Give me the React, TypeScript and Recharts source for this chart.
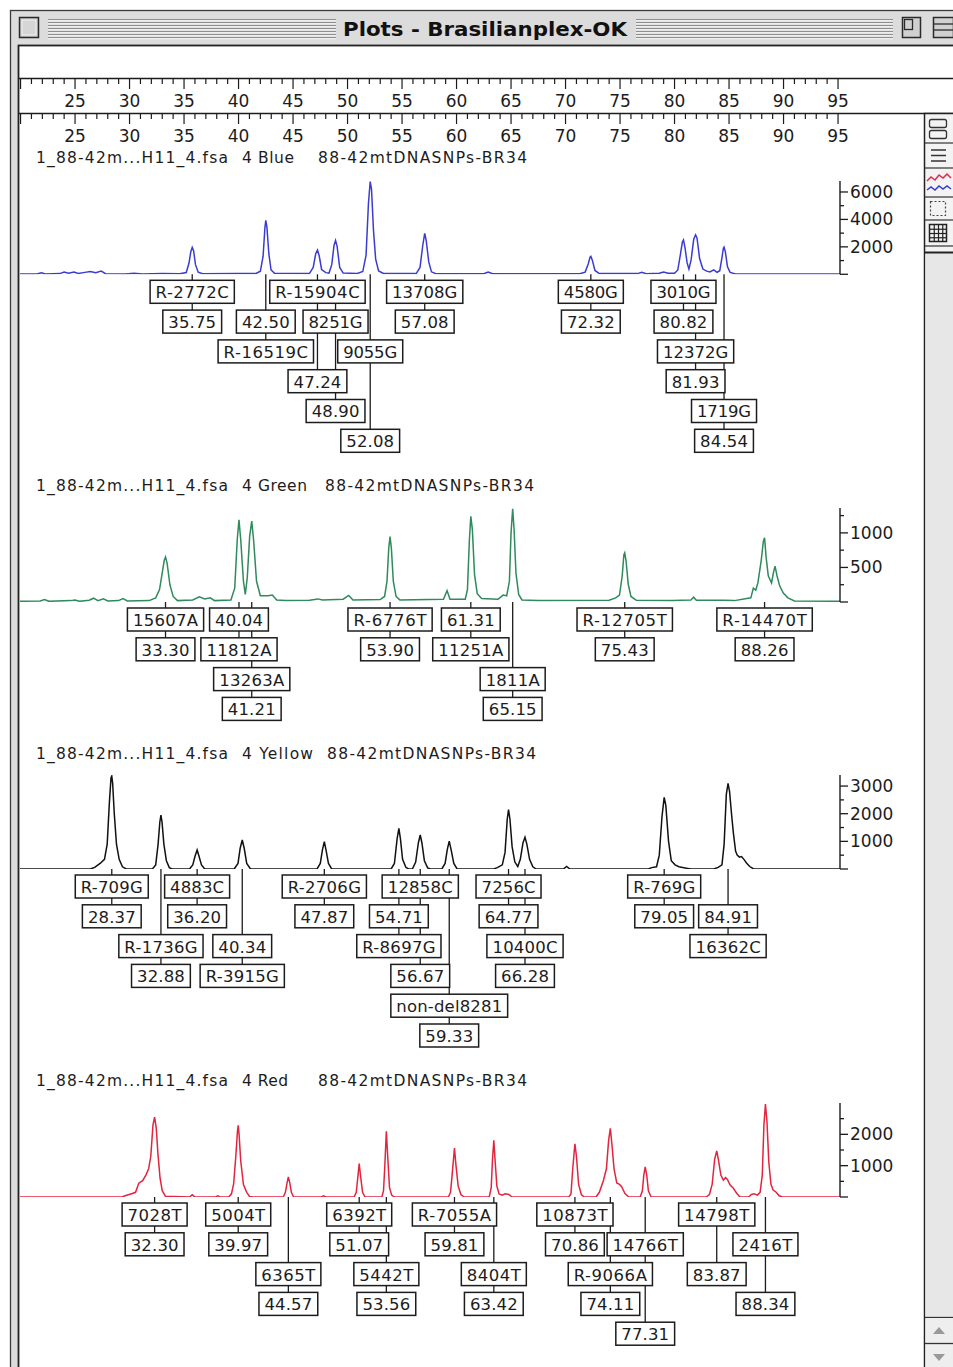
import React from "react";
import { LineChart, Line, XAxis, YAxis, ReferenceDot } from "recharts";

type Pt = [number, number];
type Call = { size: number; text: string; row: number };

// x range shown in every panel (base pairs)
const X_DOMAIN: [number, number] = [19.95, 95.18];
const rulerTicks = Array.from({ length: 76 }, (_, i) => 20 + i);

// ---- Blue ----
const blueTrace: Pt[] = [
  [19.95, 20], [21.5, 30], [21.9, 110], [22.3, 30], [23.6, 50], [24.0, 170], [24.4, 80], [24.9, 160],
  [25.3, 60], [25.9, 140], [26.4, 210], [26.9, 110], [27.4, 230], [27.8, 40], [29.6, 30], [30.4, 70],
  [31.2, 30], [33.0, 50], [34.6, 40], [35.2, 130], [35.45, 800], [35.62, 1650], [35.75, 1960], [35.88, 1700],
  [36.05, 700], [36.3, 150], [36.7, 40], [39.8, 50], [41.6, 60], [42.0, 220], [42.25, 1300], [42.42, 3400],
  [42.5, 3930], [42.6, 3450], [42.78, 1500], [42.98, 320], [43.3, 70], [46.5, 50], [46.85, 500], [47.08, 1500],
  [47.24, 1760], [47.4, 1350], [47.62, 350], [48.0, 120], [48.3, 90], [48.55, 700], [48.76, 2100], [48.9, 2470],
  [49.04, 2050], [49.28, 500], [49.6, 90], [50.9, 60], [51.4, 200], [51.7, 1400], [51.92, 5200], [52.08, 6760],
  [52.2, 6200], [52.38, 3200], [52.58, 1100], [52.85, 250], [53.3, 60], [56.3, 50], [56.65, 500], [56.9, 2100],
  [57.08, 2980], [57.22, 2450], [57.45, 900], [57.7, 180], [58.1, 40], [62.5, 40], [62.9, 160], [63.3, 40],
  [71.3, 40], [71.8, 160], [72.08, 750], [72.25, 1250], [72.32, 1310], [72.45, 1050], [72.7, 280], [73.1, 50],
  [76.6, 50], [77.0, 140], [77.4, 40], [78.6, 70], [79.0, 170], [79.4, 70], [80.0, 80], [80.3, 320],
  [80.55, 1500], [80.72, 2350], [80.82, 2500], [80.96, 1950], [81.15, 850], [81.32, 380], [81.52, 1050], [81.76, 2550],
  [81.93, 2880], [82.06, 2650], [82.3, 1150], [82.6, 380], [82.95, 230], [83.25, 170], [83.6, 320], [83.9, 150],
  [84.15, 260], [84.36, 1250], [84.48, 1900], [84.54, 1980], [84.66, 1650], [84.86, 550], [85.1, 140], [85.6, 30],
  [95.18, 20],
];
const blueCalls: Call[] = [
  { size: 35.75, text: "R-2772C", row: 1 }, { size: 35.75, text: "35.75", row: 2 },
  { size: 42.5, text: "42.50", row: 2 }, { size: 42.5, text: "R-16519C", row: 3 },
  { size: 47.24, text: "R-15904C", row: 1 }, { size: 47.24, text: "47.24", row: 4 },
  { size: 48.9, text: "8251G", row: 2 }, { size: 48.9, text: "48.90", row: 5 },
  { size: 52.08, text: "9055G", row: 3 }, { size: 52.08, text: "52.08", row: 6 },
  { size: 57.08, text: "13708G", row: 1 }, { size: 57.08, text: "57.08", row: 2 },
  { size: 72.32, text: "4580G", row: 1 }, { size: 72.32, text: "72.32", row: 2 },
  { size: 80.82, text: "3010G", row: 1 }, { size: 80.82, text: "80.82", row: 2 },
  { size: 81.93, text: "12372G", row: 3 }, { size: 81.93, text: "81.93", row: 4 },
  { size: 84.54, text: "1719G", row: 5 }, { size: 84.54, text: "84.54", row: 6 },
];
const blueTicks = [0, 1000, 2000, 3000, 4000, 5000, 6000];
const blueLabels = [2000, 4000, 6000];

// ---- Green ----
const greenTrace: Pt[] = [
  [19.95, 10], [21.8, 15], [22.2, 35], [22.6, 10], [24.6, 20], [25.0, 30], [25.4, 10], [26.3, 25],
  [26.7, 55], [27.1, 20], [27.6, 45], [28.0, 15], [29.0, 20], [29.4, 50], [29.8, 15], [31.8, 20],
  [32.4, 60], [32.75, 180], [33.0, 420], [33.18, 600], [33.3, 650], [33.45, 560], [33.7, 250], [34.0, 80],
  [34.4, 20], [35.8, 30], [36.4, 75], [36.9, 45], [37.4, 60], [37.8, 20], [39.3, 30], [39.65, 200],
  [39.88, 900], [40.04, 1190], [40.2, 900], [40.45, 300], [40.62, 110], [40.8, 350], [41.02, 950], [41.21, 1170],
  [41.38, 900], [41.65, 300], [42.0, 90], [42.7, 90], [43.1, 100], [43.5, 30], [44.3, 20], [46.5, 25],
  [47.3, 45], [47.7, 30], [49.6, 40], [50.1, 95], [50.5, 30], [53.0, 35], [53.4, 80], [53.62, 300],
  [53.78, 780], [53.9, 945], [54.02, 780], [54.2, 300], [54.45, 80], [54.8, 30], [58.8, 40], [59.13, 165],
  [59.4, 40], [60.8, 40], [61.0, 180], [61.18, 900], [61.31, 1240], [61.45, 1050], [61.65, 400], [61.9, 120],
  [62.3, 50], [63.8, 40], [64.27, 100], [64.6, 90], [64.85, 300], [65.0, 1000], [65.15, 1350], [65.28, 1050],
  [65.45, 420], [65.7, 110], [66.0, 30], [67.5, 20], [74.0, 25], [74.6, 60], [74.95, 100], [75.2, 380],
  [75.35, 680], [75.43, 710], [75.55, 600], [75.75, 260], [76.0, 80], [76.5, 25], [79.8, 20], [81.5, 30],
  [81.75, 70], [82.0, 25], [84.5, 25], [85.5, 20], [87.0, 60], [87.23, 200], [87.45, 170], [87.65, 280],
  [87.95, 600], [88.15, 880], [88.26, 930], [88.4, 650], [88.6, 380], [88.9, 275], [89.08, 430], [89.22, 520],
  [89.4, 380], [89.65, 230], [89.98, 130], [90.4, 60], [91.0, 15], [95.18, 10],
];
const greenCalls: Call[] = [
  { size: 33.3, text: "15607A", row: 1 }, { size: 33.3, text: "33.30", row: 2 },
  { size: 40.04, text: "40.04", row: 1 }, { size: 40.04, text: "11812A", row: 2 },
  { size: 41.21, text: "13263A", row: 3 }, { size: 41.21, text: "41.21", row: 4 },
  { size: 53.9, text: "R-6776T", row: 1 }, { size: 53.9, text: "53.90", row: 2 },
  { size: 61.31, text: "61.31", row: 1 }, { size: 61.31, text: "11251A", row: 2 },
  { size: 65.15, text: "1811A", row: 3 }, { size: 65.15, text: "65.15", row: 4 },
  { size: 75.43, text: "R-12705T", row: 1 }, { size: 75.43, text: "75.43", row: 2 },
  { size: 88.26, text: "R-14470T", row: 1 }, { size: 88.26, text: "88.26", row: 2 },
];
const greenTicks = [0, 250, 500, 750, 1000, 1250];
const greenLabels = [500, 1000];

// ---- Yellow (drawn in black) ----
const yellowTrace: Pt[] = [
  [19.95, 0], [26.4, 0], [26.8, 60], [27.3, 200], [27.7, 350], [27.95, 900], [28.15, 2400], [28.3, 3300],
  [28.37, 3360], [28.45, 3100], [28.6, 2000], [28.8, 900], [29.05, 350], [29.35, 80], [29.7, 0], [32.1, 0],
  [32.4, 150], [32.62, 900], [32.78, 1700], [32.88, 1950], [32.98, 1700], [33.15, 900], [33.38, 300], [33.65, 50],
  [33.9, 0], [35.5, 0], [35.8, 150], [36.0, 450], [36.2, 690], [36.38, 450], [36.6, 150], [36.9, 0],
  [39.6, 0], [39.95, 200], [40.15, 750], [40.34, 1050], [40.52, 750], [40.75, 200], [41.1, 0], [47.2, 0],
  [47.5, 200], [47.7, 700], [47.87, 990], [48.02, 700], [48.25, 200], [48.55, 0], [54.0, 0], [54.3, 200],
  [54.55, 1100], [54.71, 1470], [54.85, 1100], [55.05, 350], [55.35, 60], [55.6, 0], [55.95, 0], [56.25, 250],
  [56.5, 950], [56.67, 1230], [56.82, 950], [57.05, 300], [57.35, 40], [57.6, 0], [58.65, 0], [58.95, 200],
  [59.15, 700], [59.33, 1010], [59.5, 700], [59.75, 200], [60.05, 0], [63.4, 0], [63.75, 50], [64.2, 150],
  [64.45, 600], [64.65, 1800], [64.77, 2150], [64.9, 1800], [65.1, 800], [65.35, 250], [65.62, 90], [65.85, 350],
  [66.1, 950], [66.28, 1150], [66.45, 900], [66.7, 350], [67.0, 80], [67.3, 0], [69.8, 0], [70.1, 90],
  [70.4, 0], [77.6, 0], [77.9, 50], [78.35, 80], [78.6, 500], [78.85, 1900], [79.05, 2590], [79.2, 2300],
  [79.45, 1000], [79.7, 300], [80.05, 150], [80.4, 80], [81.2, 20], [81.5, 0], [83.6, 0], [84.0, 60],
  [84.35, 150], [84.55, 900], [84.75, 2700], [84.91, 3100], [85.05, 2800], [85.25, 1900], [85.4, 1300], [85.6, 650],
  [85.75, 500], [85.95, 430], [86.15, 450], [86.4, 330], [86.62, 210], [86.9, 90], [87.25, 0], [95.18, 0],
];
const yellowCalls: Call[] = [
  { size: 28.37, text: "R-709G", row: 1 }, { size: 28.37, text: "28.37", row: 2 },
  { size: 36.2, text: "4883C", row: 1 }, { size: 36.2, text: "36.20", row: 2 },
  { size: 32.88, text: "R-1736G", row: 3 }, { size: 32.88, text: "32.88", row: 4 },
  { size: 40.34, text: "40.34", row: 3 }, { size: 40.34, text: "R-3915G", row: 4 },
  { size: 47.87, text: "R-2706G", row: 1 }, { size: 47.87, text: "47.87", row: 2 },
  { size: 56.67, text: "12858C", row: 1 }, { size: 54.71, text: "54.71", row: 2 },
  { size: 54.71, text: "R-8697G", row: 3 }, { size: 56.67, text: "56.67", row: 4 },
  { size: 59.33, text: "non-del8281", row: 5 }, { size: 59.33, text: "59.33", row: 6 },
  { size: 64.77, text: "7256C", row: 1 }, { size: 64.77, text: "64.77", row: 2 },
  { size: 66.28, text: "10400C", row: 3 }, { size: 66.28, text: "66.28", row: 4 },
  { size: 79.05, text: "R-769G", row: 1 }, { size: 79.05, text: "79.05", row: 2 },
  { size: 84.91, text: "84.91", row: 2 }, { size: 84.91, text: "16362C", row: 3 },
];
const yellowTicks = [0, 500, 1000, 1500, 2000, 2500, 3000];
const yellowLabels = [1000, 2000, 3000];

// ---- Red ----
const redTrace: Pt[] = [
  [19.95, 0], [29.3, 0], [29.6, 40], [30.25, 110], [30.55, 150], [30.85, 440], [31.2, 520], [31.5, 700],
  [31.75, 900], [31.95, 1300], [32.15, 2300], [32.3, 2550], [32.45, 2200], [32.6, 1400], [32.8, 600], [33.0, 200],
  [33.3, 20], [35.5, 0], [35.75, 70], [36.0, 0], [37.9, 0], [38.1, 40], [38.3, 0], [39.1, 0],
  [39.35, 100], [39.55, 420], [39.75, 1300], [39.9, 2100], [39.97, 2290], [40.05, 2000], [40.2, 1150], [40.45, 400],
  [40.75, 150], [41.0, 20], [41.3, 0], [44.1, 0], [44.3, 150], [44.45, 450], [44.57, 640], [44.7, 450],
  [44.85, 150], [45.05, 0], [47.6, 0], [47.8, 40], [48.0, 0], [50.6, 0], [50.8, 150], [50.95, 650],
  [51.07, 1070], [51.2, 650], [51.38, 150], [51.6, 0], [53.15, 0], [53.3, 200], [53.42, 1000], [53.56, 2100],
  [53.7, 1200], [53.85, 300], [54.05, 60], [54.3, 0], [59.25, 0], [59.45, 150], [59.62, 800], [59.81, 1560],
  [59.95, 1000], [60.15, 350], [60.4, 80], [60.7, 0], [63.0, 0], [63.18, 300], [63.3, 1200], [63.42, 1810],
  [63.55, 1100], [63.7, 350], [63.9, 100], [64.2, 60], [64.45, 100], [64.8, 80], [65.1, 0], [70.3, 0],
  [70.5, 100], [70.66, 900], [70.86, 1700], [71.0, 1300], [71.2, 400], [71.45, 80], [71.7, 0], [72.8, 0],
  [73.1, 150], [73.47, 520], [73.75, 900], [73.95, 1800], [74.11, 2190], [74.25, 1700], [74.45, 900], [74.7, 450],
  [74.95, 400], [75.15, 330], [75.45, 110], [75.8, 0], [76.85, 0], [77.05, 200], [77.18, 700], [77.31, 960],
  [77.45, 700], [77.6, 200], [77.85, 0], [82.9, 0], [83.2, 80], [83.45, 400], [83.68, 1200], [83.87, 1470],
  [84.02, 1200], [84.25, 700], [84.48, 540], [84.68, 620], [84.85, 560], [85.1, 380], [85.4, 280], [85.7, 120],
  [86.0, 0], [86.8, 0], [87.05, 80], [87.3, 100], [87.6, 60], [87.85, 150], [88.05, 700], [88.2, 2300],
  [88.34, 2970], [88.48, 2400], [88.65, 1100], [88.85, 400], [89.05, 220], [89.3, 160], [89.6, 40], [89.9, 0],
  [95.18, 0],
];
const redCalls: Call[] = [
  { size: 32.3, text: "7028T", row: 1 }, { size: 32.3, text: "32.30", row: 2 },
  { size: 39.97, text: "5004T", row: 1 }, { size: 39.97, text: "39.97", row: 2 },
  { size: 44.57, text: "6365T", row: 3 }, { size: 44.57, text: "44.57", row: 4 },
  { size: 51.07, text: "6392T", row: 1 }, { size: 51.07, text: "51.07", row: 2 },
  { size: 53.56, text: "5442T", row: 3 }, { size: 53.56, text: "53.56", row: 4 },
  { size: 59.81, text: "R-7055A", row: 1 }, { size: 59.81, text: "59.81", row: 2 },
  { size: 63.42, text: "8404T", row: 3 }, { size: 63.42, text: "63.42", row: 4 },
  { size: 70.86, text: "10873T", row: 1 }, { size: 70.86, text: "70.86", row: 2 },
  { size: 77.31, text: "14766T", row: 2 }, { size: 74.11, text: "R-9066A", row: 3 },
  { size: 74.11, text: "74.11", row: 4 }, { size: 77.31, text: "77.31", row: 5 },
  { size: 83.87, text: "14798T", row: 1 }, { size: 83.87, text: "83.87", row: 3 },
  { size: 88.34, text: "2416T", row: 2 }, { size: 88.34, text: "88.34", row: 4 },
];
const redTicks = [0, 500, 1000, 1500, 2000, 2500];
const redLabels = [1000, 2000];

const FONT = "'DejaVu Sans', 'Liberation Sans', sans-serif";
const INK = "#1c1c1c";
const CHART_W = 924;
const M_LEFT = 20;
const Y_AXIS_W = 80;
const M_RIGHT = CHART_W - 840 - Y_AXIS_W;
const ROW_OFFSET = 6;
const ROW_STEP = 29.8;
const BOX_H = 23;

const charW = (c: string) =>
  c === "." || c === "l" ? 5 : c === "-" ? 8 : /[a-z]/.test(c) ? 10 : 11.2;
const boxW = (t: string) => [...t].reduce((s, c) => s + charW(c), 0) + 9;

function YTick(props: any) {
  const { x, y, payload, labels } = props;
  const v = payload.value;
  const lab = labels.includes(v);
  const len = lab || v === 0 ? 8 : 4;
  return (
    <g>
      <line x1={x} x2={x + len} y1={y} y2={y} stroke={INK} strokeWidth={1.3} />
      {lab && (
        <text x={x + 10} y={y} dominantBaseline="central" fontSize={17} fontFamily={FONT} fill={INK}>
          {v}
        </text>
      )}
    </g>
  );
}

function RulerTick(props: any) {
  const { x, y, payload } = props;
  const v = payload.value;
  const major = v % 5 === 0;
  return (
    <g>
      <line x1={x} x2={x} y1={y} y2={y + (major ? 10 : 5)} stroke={INK} strokeWidth={1.2} />
      {major && v > 20 && (
        <text x={x} y={y + 22} textAnchor="middle" dominantBaseline="central" fontSize={17} fontFamily={FONT} fill={INK}>
          {v}
        </text>
      )}
    </g>
  );
}

function Ruler({ top }: { top: number }) {
  const data = [{ x: X_DOMAIN[0], y: 0 }, { x: X_DOMAIN[1], y: 0 }];
  return (
    <div style={{ position: "absolute", left: 0, top: top - 2 }}>
      <LineChart width={CHART_W} height={38} data={data}
        margin={{ top: 0, right: M_RIGHT + Y_AXIS_W, bottom: 0, left: M_LEFT }}>
        <XAxis dataKey="x" type="number" domain={X_DOMAIN} allowDataOverflow ticks={rulerTicks}
          interval={0} height={36} axisLine={false} tickLine={false} tickSize={0} tickMargin={0}
          tick={(p: any) => <RulerTick {...p} />} />
        <YAxis hide domain={[0, 1]} />
        <Line dataKey="y" stroke="none" dot={false} isAnimationActive={false} />
      </LineChart>
    </div>
  );
}

type PanelProps = {
  trace: Pt[]; calls: Call[]; color: string; yMax: number;
  yTicks: number[]; yLabels: number[]; axisTop: number; baseline: number;
};

function Panel({ trace, calls, color, yMax, yTicks, yLabels, axisTop, baseline }: PanelProps) {
  const mt = 2;
  const mb = 190;
  const h = mt + (baseline - axisTop) + mb;
  const data = trace.map(([x, y]) => ({ x, y }));
  const stems: { size: number; row: number }[] = [];
  calls.forEach((c) => {
    const s = stems.find((d) => d.size === c.size);
    if (s) s.row = Math.max(s.row, c.row);
    else stems.push({ size: c.size, row: c.row });
  });
  return (
    <div style={{ position: "absolute", left: 0, top: axisTop - mt }}>
      <LineChart width={CHART_W} height={h} data={data}
        margin={{ top: mt, right: M_RIGHT, bottom: mb, left: M_LEFT }}>
        <XAxis dataKey="x" type="number" domain={X_DOMAIN} allowDataOverflow hide />
        <YAxis orientation="right" type="number" domain={[0, yMax]} allowDataOverflow ticks={yTicks}
          interval={0} width={Y_AXIS_W} axisLine={{ stroke: INK, strokeWidth: 1.4 }} tickLine={false}
          tickSize={0} tickMargin={0} tick={(p: any) => <YTick {...p} labels={yLabels} />} />
        <Line dataKey="y" type="linear" stroke={color} strokeWidth={1.5} dot={false} activeDot={false}
          isAnimationActive={false} />
        {stems.map((s) => (
          <ReferenceDot key={"stem" + s.size} x={s.size} y={0} r={0} ifOverflow="visible"
            shape={(p: any) => (
              <line x1={p.cx} x2={p.cx} y1={p.cy} y2={p.cy + ROW_OFFSET + (s.row - 1) * ROW_STEP + 2}
                stroke={INK} strokeWidth={1.3} />
            )} />
        ))}
        {calls.map((c) => (
          <ReferenceDot key={c.text + c.row} x={c.size} y={0} r={0} ifOverflow="visible"
            shape={(p: any) => {
              const w = boxW(c.text);
              const top = p.cy + ROW_OFFSET + (c.row - 1) * ROW_STEP;
              return (
                <g>
                  <rect x={p.cx - w / 2} y={top} width={w} height={BOX_H} fill="#fff" stroke={INK} strokeWidth={1.5} />
                  <text x={p.cx} y={top + BOX_H / 2 + 1} textAnchor="middle" dominantBaseline="central"
                    fontSize={16.5} fontFamily={FONT} fill={INK} textLength={w - 11} lengthAdjust="spacing">
                    {c.text}
                  </text>
                </g>
              );
            }} />
        ))}
      </LineChart>
    </div>
  );
}

function Header({ y, channel, chX, chW, nameX }: { y: number; channel: string; chX: number; chW: number; nameX: number }) {
  return (
    <g fontFamily={FONT} fontSize={15.5} fill={INK}>
      <text x={36} y={y} dominantBaseline="central" textLength={192} lengthAdjust="spacing">1_88-42m...H11_4.fsa</text>
      <text x={chX} y={y} dominantBaseline="central" textLength={chW} lengthAdjust="spacing">{channel}</text>
      <text x={nameX} y={y} dominantBaseline="central" textLength={209} lengthAdjust="spacing">88-42mtDNASNPs-BR34</text>
    </g>
  );
}

function Chrome() {
  const stripes = [19.5, 22.5, 25.5, 28.5, 31.5, 34.5, 37.5];
  return (
    <svg width={953} height={1367} style={{ position: "absolute", left: 0, top: 0 }}>
      <rect x={0} y={0} width={953} height={1367} fill="#fff" />
      <rect x={10.5} y={10.5} width={960} height={1400} fill="#dcdcdc" stroke="#3a3a3a" strokeWidth={1.3} />
      {stripes.map((y) => (
        <g key={y}>
          <line x1={48} x2={336} y1={y} y2={y} stroke="#8e8e8e" strokeWidth={1.1} />
          <line x1={48} x2={336} y1={y + 1.3} y2={y + 1.3} stroke="#f4f4f4" strokeWidth={1} />
          <line x1={636} x2={893} y1={y} y2={y} stroke="#8e8e8e" strokeWidth={1.1} />
          <line x1={636} x2={893} y1={y + 1.3} y2={y + 1.3} stroke="#f4f4f4" strokeWidth={1} />
        </g>
      ))}
      <rect x={19.5} y={17.5} width={19} height={20} fill="#c9c9c9" stroke="#2a2a2a" strokeWidth={1.5} />
      <rect x={22} y={20} width={14} height={15} fill="#d6d6d6" stroke="#f2f2f2" strokeWidth={1} />
      <text x={485} y={29} textAnchor="middle" dominantBaseline="central" fontFamily="'DejaVu Sans Condensed', 'DejaVu Sans', sans-serif"
        fontWeight="bold" fontSize={19} fill="#111" textLength={284} lengthAdjust="spacingAndGlyphs">
        Plots - Brasilianplex-OK
      </text>
      <rect x={902.5} y={17.5} width={18} height={20} fill="#d0d0d0" stroke="#2a2a2a" strokeWidth={1.5} />
      <rect x={904.5} y={19.5} width={8} height={10} fill="none" stroke="#2a2a2a" strokeWidth={1.3} />
      <rect x={933.5} y={17.5} width={20} height={20} fill="#d0d0d0" stroke="#2a2a2a" strokeWidth={1.5} />
      <line x1={934} x2={953} y1={24} y2={24} stroke="#2a2a2a" strokeWidth={1.3} />
      <line x1={934} x2={953} y1={30} y2={30} stroke="#2a2a2a" strokeWidth={1.3} />
      {/* content area */}
      <rect x={18.5} y={45.5} width={960} height={1400} fill="#fff" stroke="#222" strokeWidth={1.8} />
      <line x1={19} x2={953} y1={78.5} y2={78.5} stroke={INK} strokeWidth={1.5} />
      <line x1={19} x2={953} y1={113.5} y2={113.5} stroke={INK} strokeWidth={1.5} />
      {/* side tool / scroll bar */}
      <rect x={924.5} y={113.5} width={40} height={1300} fill="#f3f3f3" stroke="#222" strokeWidth={1.5} />
      <rect x={925.5} y={253} width={40} height={1064} fill="#e7e7e7" />
      {[143, 168, 197, 220, 246].map((y) => (
        <line key={y} x1={925} x2={953} y1={y} y2={y} stroke="#333" strokeWidth={1.2} />
      ))}
      <line x1={925} x2={953} y1={252.5} y2={252.5} stroke="#222" strokeWidth={2} />
      <rect x={929.5} y={119.5} width={17} height={8} rx={2} fill="none" stroke="#333" strokeWidth={1.3} />
      <rect x={929.5} y={130.5} width={17} height={8} rx={2} fill="none" stroke="#333" strokeWidth={1.3} />
      {[150, 155.5, 161].map((y) => (
        <line key={y} x1={931} x2={946} y1={y} y2={y} stroke="#333" strokeWidth={1.5} />
      ))}
      <polyline points="927,181 931,177 935,180 939,175 943,178 947,174 951,178" fill="none" stroke="#e02a48" strokeWidth={1.5} />
      <polyline points="927,190 931,187 935,190 939,186 943,189 947,186 951,189" fill="none" stroke="#3a3ad0" strokeWidth={1.5} />
      <rect x={930.5} y={201.5} width={15} height={14} fill="none" stroke="#444" strokeWidth={1.2} strokeDasharray="2 2" />
      <rect x={929.5} y={224.5} width={17} height={17} fill="none" stroke="#222" strokeWidth={1.5} />
      {[930 + 17 / 4, 930 + 17 / 2, 930 + 51 / 4].map((x) => (
        <line key={"gx" + x} x1={x} x2={x} y1={225} y2={241} stroke="#222" strokeWidth={1.2} />
      ))}
      {[225 + 17 / 4, 225 + 17 / 2, 225 + 51 / 4].map((y) => (
        <line key={"gy" + y} x1={930} x2={946} y1={y} y2={y} stroke="#222" strokeWidth={1.2} />
      ))}
      <line x1={925} x2={953} y1={1317.5} y2={1317.5} stroke="#333" strokeWidth={1.3} />
      <rect x={925.5} y={1318} width={30} height={50} fill="#eeeeee" />
      <line x1={925} x2={953} y1={1343.5} y2={1343.5} stroke="#333" strokeWidth={1.3} />
      <polygon points="933,1334 939,1327 945,1334" fill="#999" />
      <polygon points="933,1354 939,1361 945,1354" fill="#999" />
      <Header y={158} channel="4 Blue" chX={242} chW={52} nameX={318} />
      <Header y={486} channel="4 Green" chX={242} chW={65} nameX={325} />
      <Header y={754} channel="4 Yellow" chX={242} chW={71} nameX={327} />
      <Header y={1081} channel="4 Red" chX={242} chW={46} nameX={318} />
    </svg>
  );
}

export default function App() {
  return (
    <div style={{ position: "absolute", left: 0, top: 0, width: 953, height: 1367, overflow: "hidden", background: "#fff" }}>
      <Chrome />
      <Ruler top={78.5} />
      <Ruler top={113.5} />
      <Panel trace={blueTrace} calls={blueCalls} color="#3b3bd4" yMax={6800} yTicks={blueTicks}
        yLabels={blueLabels} axisTop={181} baseline={274.3} />
      <Panel trace={greenTrace} calls={greenCalls} color="#2f8a5c" yMax={1360} yTicks={greenTicks}
        yLabels={greenLabels} axisTop={508} baseline={602} />
      <Panel trace={yellowTrace} calls={yellowCalls} color="#111111" yMax={3400} yTicks={yellowTicks}
        yLabels={yellowLabels} axisTop={775} baseline={869} />
      <Panel trace={redTrace} calls={redCalls} color="#e3243f" yMax={3000} yTicks={redTicks}
        yLabels={redLabels} axisTop={1103} baseline={1197} />
    </div>
  );
}
